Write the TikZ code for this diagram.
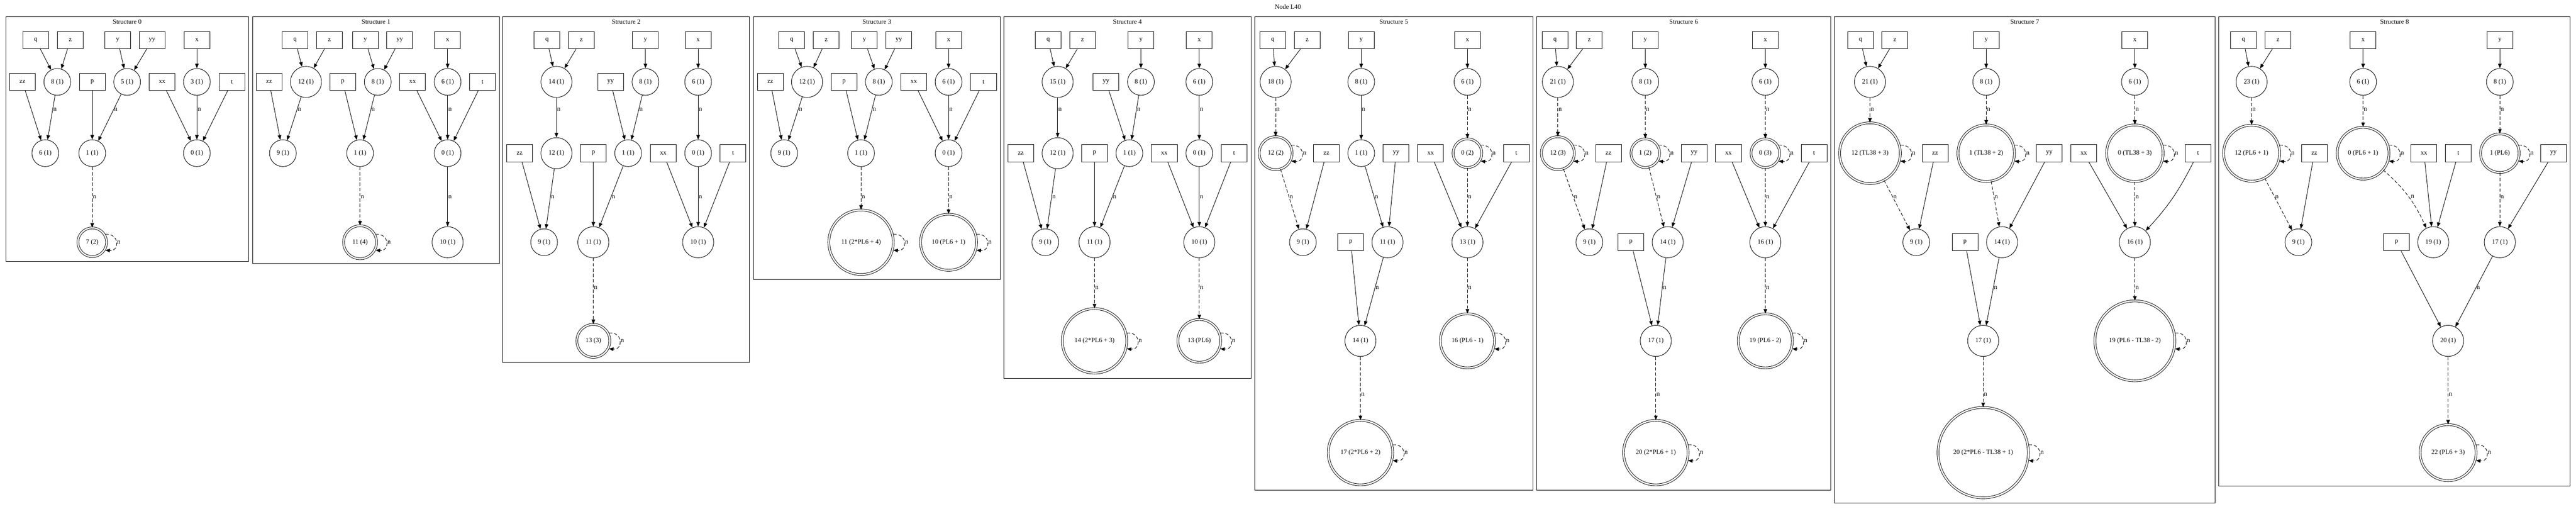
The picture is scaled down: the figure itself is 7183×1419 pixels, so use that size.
\documentclass[tikz,border=0pt]{standalone}
\usepackage{fontspec}
\setmainfont{Liberation Serif}
\usetikzlibrary{arrows.meta,calc}
\newcommand\myelab[3]{\path let \p1=(#1.center), \p2=(#2.center), \p3=(0,#3) in node[lbl] at ({\x1+((\x2)-(\x1))*(((\y3)-(\y1))/((\y2)-(\y1)))},\y3) {n};}
\newcommand\myE[2]{\draw[ar] (#1) -- (#2);}
\newcommand\myL[3]{\draw[ar] (#1) -- (#2);\myelab{#1}{#2}{#3}}
\newcommand\myD[3]{\draw[da] (#1) -- (#2);\myelab{#1}{#2}{#3}}
\newcommand\myloop[2]{\pgfmathsetmacro\lx{#2*sqrt(1-(22/#2)*(22/#2))}\draw[da] ($(#1.center)+(\lx,-22)$) .. controls +(40,-4) and +(40,4) .. ($(#1.center)+(\lx,22)$);\node[lbl] at ($(#1.center)+(\lx+31,0)$) {n};}
\begin{document}
\begin{tikzpicture}[x=0.75pt,y=-0.75pt,line width=1pt,
  every node/.style={font=\fontsize{13.6}{16}\selectfont},
  bx/.style={draw,rectangle,minimum width=54pt,minimum height=36pt,inner sep=0pt},
  c1/.style={draw,circle,minimum size=56pt,inner sep=0pt},
  c2/.style={draw,circle,minimum size=64.9pt,inner sep=0pt},
  dc/.style={draw,circle,double,double distance=3pt,inner sep=0pt,minimum size=#1},
  lbl/.style={anchor=west,inner sep=0pt,xshift=1pt},
  ar/.style={-{Triangle[length=9.5pt,width=7.5pt]}},
  da/.style={ar,dash pattern=on 7pt off 4pt}]
\fill[white] (0,0) rectangle (7183,1419);
\node at (3591,19) {Node L40};
% ---------------- Structure 0
\draw (16,47) rectangle (693,728.6);
\node at (354.5,61) {Structure 0};
\node[bx] (s0q) at (99.6,111.7) {q};
\node[bx] (s0z) at (195.9,111.7) {z};
\node[bx] (s0y) at (328.1,111.7) {y};
\node[bx] (s0yy) at (424.1,111.7) {yy};
\node[bx] (s0x) at (549,111.7) {x};
\node[bx] (s0zz) at (62.5,228.4) {zz};
\node[c1] (s0n8) at (159.8,228.4) {8 (1)};
\node[bx] (s0p) at (257.2,228.4) {p};
\node[c1] (s0n5) at (354.5,228.4) {5 (1)};
\node[bx] (s0xx) at (452.1,228.4) {xx};
\node[c1] (s0n3) at (549,228.4) {3 (1)};
\node[bx] (s0t) at (646.8,228.4) {t};
\node[c1] (s0n6) at (126.3,427.2) {6 (1)};
\node[c1] (s0n1) at (257.2,427.2) {1 (1)};
\node[c1] (s0n0) at (549,427.2) {0 (1)};
\node[dc=60pt] (s0n7) at (257.2,675.5) {7 (2)};
\myE{s0q}{s0n8}\myE{s0z}{s0n8}\myE{s0y}{s0n5}\myE{s0yy}{s0n5}\myE{s0x}{s0n3}
\myE{s0zz}{s0n6}\myL{s0n8}{s0n6}{306}\myE{s0p}{s0n1}\myL{s0n5}{s0n1}{306}
\myE{s0xx}{s0n0}\myL{s0n3}{s0n0}{306}\myE{s0t}{s0n0}
\myD{s0n1}{s0n7}{549}\myloop{s0n7}{42.7}
% ---------------- Structure 1
\draw (704,47) rectangle (1393,735);
\node at (1048.5,61) {Structure 1};
\node[bx] (s1q) at (822.7,111.7) {q};
\node[bx] (s1z) at (918.6,111.7) {z};
\node[bx] (s1y) at (1018.7,111.7) {y};
\node[bx] (s1yy) at (1114.6,111.7) {yy};
\node[bx] (s1x) at (1248.2,111.7) {x};
\node[bx] (s1zz) at (750.3,228.4) {zz};
\node[c2] (s1n12) at (853.2,228.4) {12 (1)};
\node[bx] (s1p) at (955.8,228.4) {p};
\node[c1] (s1n8) at (1053.4,228.4) {8 (1)};
\node[bx] (s1xx) at (1150.4,228.4) {xx};
\node[c1] (s1n6) at (1248.2,228.4) {6 (1)};
\node[bx] (s1t) at (1345.5,228.4) {t};
\node[c1] (s1n9) at (788.9,427.2) {9 (1)};
\node[c1] (s1n1) at (1004,427.2) {1 (1)};
\node[c1] (s1n0) at (1248.2,427.2) {0 (1)};
\node[dc=68.9pt] (s1n11) at (1004,675.5) {11 (4)};
\node[c2] (s1n10) at (1248.2,675.5) {10 (1)};
\myE{s1q}{s1n12}\myE{s1z}{s1n12}\myE{s1y}{s1n8}\myE{s1yy}{s1n8}\myE{s1x}{s1n6}
\myE{s1zz}{s1n9}\myL{s1n12}{s1n9}{306}\myE{s1p}{s1n1}\myL{s1n8}{s1n1}{306}
\myE{s1xx}{s1n0}\myL{s1n6}{s1n0}{306}\myE{s1t}{s1n0}
\myD{s1n1}{s1n11}{549}\myloop{s1n11}{48.6}\myL{s1n0}{s1n10}{549}
% ---------------- Structure 2
\draw (1402,47) rectangle (2090,1010.5);
\node at (1746,61) {Structure 2};
\node[bx] (s2q) at (1525.3,111.7) {q};
\node[bx] (s2z) at (1621.2,111.7) {z};
\node[bx] (s2y) at (1799.8,111.7) {y};
\node[bx] (s2x) at (1946.7,111.7) {x};
\node[c2] (s2n14) at (1551.6,228.4) {14 (1)};
\node[bx] (s2yy) at (1702.5,228.4) {yy};
\node[c1] (s2n8) at (1799.8,228.4) {8 (1)};
\node[c1] (s2n6) at (1946.7,228.4) {6 (1)};
\node[bx] (s2zz) at (1448.9,427.2) {zz};
\node[c2] (s2n12) at (1551.6,427.2) {12 (1)};
\node[bx] (s2p) at (1654.5,427.2) {p};
\node[c1] (s2n1) at (1751.6,427.2) {1 (1)};
\node[bx] (s2xx) at (1849.4,427.2) {xx};
\node[c1] (s2n0) at (1946.7,427.2) {0 (1)};
\node[bx] (s2t) at (2044,427.2) {t};
\node[c1] (s2n9) at (1517.2,675.5) {9 (1)};
\node[c2] (s2n11) at (1654.5,675.5) {11 (1)};
\node[c2] (s2n10) at (1946.7,675.5) {10 (1)};
\node[dc=68.9pt] (s2n13) at (1654.5,950.5) {13 (3)};
\myE{s2q}{s2n14}\myE{s2z}{s2n14}\myE{s2y}{s2n8}\myE{s2x}{s2n6}
\myL{s2n14}{s2n12}{306}\myE{s2yy}{s2n1}\myL{s2n8}{s2n1}{306}\myL{s2n6}{s2n0}{306}
\myE{s2zz}{s2n9}\myL{s2n12}{s2n9}{549}\myE{s2p}{s2n11}\myL{s2n1}{s2n11}{549}
\myE{s2xx}{s2n10}\myL{s2n0}{s2n10}{549}\myE{s2t}{s2n10}
\myD{s2n11}{s2n13}{803}\myloop{s2n13}{48.6}
% ---------------- Structure 3
\draw (2100.7,47) rectangle (2789.6,779.6);
\node at (2445.2,61) {Structure 3};
\node[bx] (s3q) at (2207.7,111.7) {q};
\node[bx] (s3z) at (2303.7,111.7) {z};
\node[bx] (s3y) at (2410.4,111.7) {y};
\node[bx] (s3yy) at (2506.4,111.7) {yy};
\node[bx] (s3x) at (2645,111.7) {x};
\node[bx] (s3zz) at (2148,228.4) {zz};
\node[c2] (s3n12) at (2250.4,228.4) {12 (1)};
\node[bx] (s3p) at (2353.5,228.4) {p};
\node[c1] (s3n8) at (2450.6,228.4) {8 (1)};
\node[bx] (s3xx) at (2548,228.4) {xx};
\node[c1] (s3n6) at (2645,228.4) {6 (1)};
\node[bx] (s3t) at (2742.4,228.4) {t};
\node[c1] (s3n9) at (2186.6,427.2) {9 (1)};
\node[c1] (s3n1) at (2401,427.2) {1 (1)};
\node[c1] (s3n0) at (2645,427.2) {0 (1)};
\node[dc=134.8pt] (s3n11) at (2401,675.5) {11 (2*PL6 + 4)};
\node[dc=117.2pt] (s3n10) at (2645,675.5) {10 (PL6 + 1)};
\myE{s3q}{s3n12}\myE{s3z}{s3n12}\myE{s3y}{s3n8}\myE{s3yy}{s3n8}\myE{s3x}{s3n6}
\myE{s3zz}{s3n9}\myL{s3n12}{s3n9}{306}\myE{s3p}{s3n1}\myL{s3n8}{s3n1}{306}
\myE{s3xx}{s3n0}\myL{s3n6}{s3n0}{306}\myE{s3t}{s3n0}
\myD{s3n1}{s3n11}{549}\myloop{s3n11}{92.6}\myD{s3n0}{s3n10}{549}\myloop{s3n10}{80.8}
% ---------------- Structure 4
\draw (2799.3,47) rectangle (3488,1055.4);
\node at (3143.7,61) {Structure 4};
\node[bx] (s4q) at (2922.6,111.7) {q};
\node[bx] (s4z) at (3018.6,111.7) {z};
\node[bx] (s4y) at (3181.4,111.7) {y};
\node[bx] (s4x) at (3344.1,111.7) {x};
\node[c2] (s4n15) at (2949.2,228.4) {15 (1)};
\node[bx] (s4yy) at (3084,228.4) {yy};
\node[c1] (s4n8) at (3181.4,228.4) {8 (1)};
\node[c1] (s4n6) at (3344.1,228.4) {6 (1)};
\node[bx] (s4zz) at (2846.5,427.2) {zz};
\node[c2] (s4n12) at (2949.2,427.2) {12 (1)};
\node[bx] (s4p) at (3052,427.2) {p};
\node[c1] (s4n1) at (3149.2,427.2) {1 (1)};
\node[bx] (s4xx) at (3246.6,427.2) {xx};
\node[c1] (s4n0) at (3344.1,427.2) {0 (1)};
\node[bx] (s4t) at (3441.3,427.2) {t};
\node[c1] (s4n9) at (2914.6,675.5) {9 (1)};
\node[c2] (s4n11) at (3052,675.5) {11 (1)};
\node[c2] (s4n10) at (3344.1,675.5) {10 (1)};
\node[dc=134.8pt] (s4n14) at (3052,950.5) {14 (2*PL6 + 3)};
\node[dc=89.5pt] (s4n13) at (3344.1,950.5) {13 (PL6)};
\myE{s4q}{s4n15}\myE{s4z}{s4n15}\myE{s4y}{s4n8}\myE{s4x}{s4n6}
\myL{s4n15}{s4n12}{306}\myE{s4yy}{s4n1}\myL{s4n8}{s4n1}{306}\myL{s4n6}{s4n0}{306}
\myE{s4zz}{s4n9}\myL{s4n12}{s4n9}{549}\myE{s4p}{s4n11}\myL{s4n1}{s4n11}{549}
\myE{s4xx}{s4n10}\myL{s4n0}{s4n10}{549}\myE{s4t}{s4n10}
\myD{s4n11}{s4n14}{803}\myloop{s4n14}{92.6}\myD{s4n10}{s4n13}{803}\myloop{s4n13}{62.4}
% ---------------- Structure 5
\draw (3498.6,47) rectangle (4274.4,1366.5);
\node at (3886.5,61) {Structure 5};
\node[bx] (s5q) at (3549,111.7) {q};
\node[bx] (s5z) at (3645,111.7) {z};
\node[bx] (s5y) at (3795.6,111.7) {y};
\node[bx] (s5x) at (4091.8,111.7) {x};
\node[c2] (s5n18) at (3557,228.4) {18 (1)};
\node[c1] (s5n8) at (3795.6,228.4) {8 (1)};
\node[c1] (s5n6) at (4091.8,228.4) {6 (1)};
\node[dc=68.9pt] (s5n12) at (3557,427.2) {12 (2)};
\node[bx] (s5zz) at (3698.6,427.2) {zz};
\node[c1] (s5n1) at (3795.6,427.2) {1 (1)};
\node[bx] (s5yy) at (3892.9,427.2) {yy};
\node[bx] (s5xx) at (3989.2,427.2) {xx};
\node[dc=60pt] (s5n0) at (4091.8,427.2) {0 (2)};
\node[bx] (s5t) at (4228.2,427.2) {t};
\node[c1] (s5n9) at (3633,675.5) {9 (1)};
\node[bx] (s5p) at (3766.4,675.5) {p};
\node[c2] (s5n11) at (3868.9,675.5) {11 (1)};
\node[c2] (s5n13) at (4091.8,675.5) {13 (1)};
\node[c2] (s5n14) at (3793.5,950.5) {14 (1)};
\node[dc=113.1pt] (s5n16) at (4091.8,950.5) {16 (PL6 - 1)};
\node[dc=134.8pt] (s5n17) at (3793.5,1262.2) {17 (2*PL6 + 2)};
\myE{s5q}{s5n18}\myE{s5z}{s5n18}\myE{s5y}{s5n8}\myE{s5x}{s5n6}
\myD{s5n18}{s5n12}{306}\myloop{s5n12}{48.6}\myL{s5n8}{s5n1}{306}
\myD{s5n6}{s5n0}{306}\myloop{s5n0}{42.7}
\myD{s5n12}{s5n9}{549}\myE{s5zz}{s5n9}\myL{s5n1}{s5n11}{549}\myE{s5yy}{s5n11}
\myE{s5xx}{s5n13}\myD{s5n0}{s5n13}{549}\myE{s5t}{s5n13}
\myE{s5p}{s5n14}\myL{s5n11}{s5n14}{803}\myD{s5n13}{s5n16}{803}\myloop{s5n16}{78.1}
\myD{s5n14}{s5n17}{1100}\myloop{s5n17}{92.6}
% ---------------- Structure 6
\draw (4284.8,47) rectangle (5105,1366.5);
\node at (4694.9,61) {Structure 6};
\node[bx] (s6q) at (4335.9,111.7) {q};
\node[bx] (s6z) at (4431.7,111.7) {z};
\node[bx] (s6y) at (4587.8,111.7) {y};
\node[bx] (s6x) at (4922.5,111.7) {x};
\node[c2] (s6n21) at (4343.9,228.4) {21 (1)};
\node[c1] (s6n8) at (4587.8,228.4) {8 (1)};
\node[c1] (s6n6) at (4922.5,228.4) {6 (1)};
\node[dc=68.9pt] (s6n12) at (4343.9,427.2) {12 (3)};
\node[bx] (s6zz) at (4485.1,427.2) {zz};
\node[dc=60pt] (s6n1) at (4587.8,427.2) {1 (2)};
\node[bx] (s6yy) at (4723.9,427.2) {yy};
\node[bx] (s6xx) at (4819.7,427.2) {xx};
\node[dc=60pt] (s6n0) at (4922.5,427.2) {0 (3)};
\node[bx] (s6t) at (5058.5,427.2) {t};
\node[c1] (s6n9) at (4431.7,675.5) {9 (1)};
\node[bx] (s6p) at (4547.7,675.5) {p};
\node[c2] (s6n14) at (4650.4,675.5) {14 (1)};
\node[c2] (s6n16) at (4922.5,675.5) {16 (1)};
\node[c2] (s6n17) at (4617.1,950.5) {17 (1)};
\node[dc=113.1pt] (s6n19) at (4922.5,950.5) {19 (PL6 - 2)};
\node[dc=134.8pt] (s6n20) at (4617.1,1262.2) {20 (2*PL6 + 1)};
\myE{s6q}{s6n21}\myE{s6z}{s6n21}\myE{s6y}{s6n8}\myE{s6x}{s6n6}
\myD{s6n21}{s6n12}{306}\myloop{s6n12}{48.6}\myD{s6n8}{s6n1}{306}\myloop{s6n1}{42.7}
\myD{s6n6}{s6n0}{306}\myloop{s6n0}{42.7}
\myD{s6n12}{s6n9}{549}\myE{s6zz}{s6n9}\myD{s6n1}{s6n14}{549}\myE{s6yy}{s6n14}
\myE{s6xx}{s6n16}\myD{s6n0}{s6n16}{549}\myE{s6t}{s6n16}
\myE{s6p}{s6n17}\myL{s6n14}{s6n17}{803}\myD{s6n16}{s6n19}{803}\myloop{s6n19}{78.1}
\myD{s6n17}{s6n20}{1100}\myloop{s6n20}{92.6}
% ---------------- Structure 7
\draw (5115.4,47) rectangle (6176,1402.8);
\node at (5645.7,61) {Structure 7};
\node[bx] (s7q) at (5187.9,111.7) {q};
\node[bx] (s7z) at (5283.6,111.7) {z};
\node[bx] (s7y) at (5538.3,111.7) {y};
\node[bx] (s7x) at (5952.9,111.7) {x};
\node[c2] (s7n21) at (5214.2,228.4) {21 (1)};
\node[c1] (s7n8) at (5538.3,228.4) {8 (1)};
\node[c1] (s7n6) at (5952.9,228.4) {6 (1)};
\node[dc=127pt] (s7n12) at (5214.2,427.2) {12 (TL38 + 3)};
\node[bx] (s7zz) at (5395.9,427.2) {zz};
\node[dc=118.2pt] (s7n1) at (5538.3,427.2) {1 (TL38 + 2)};
\node[bx] (s7yy) at (5714.3,427.2) {yy};
\node[bx] (s7xx) at (5810.5,427.2) {xx};
\node[dc=118.2pt] (s7n0) at (5952.9,427.2) {0 (TL38 + 3)};
\node[bx] (s7t) at (6128.9,427.2) {t};
\node[c1] (s7n9) at (5343.3,675.5) {9 (1)};
\node[bx] (s7p) at (5479.3,675.5) {p};
\node[c2] (s7n14) at (5582.5,675.5) {14 (1)};
\node[c2] (s7n16) at (5952.9,675.5) {16 (1)};
\node[c2] (s7n17) at (5529.9,950.5) {17 (1)};
\node[dc=167.1pt] (s7n19) at (5952.9,950.5) {19 (PL6 - TL38 - 2)};
\node[dc=188.9pt] (s7n20) at (5529.9,1262.2) {20 (2*PL6 - TL38 + 1)};
\myE{s7q}{s7n21}\myE{s7z}{s7n21}\myE{s7y}{s7n8}\myE{s7x}{s7n6}
\myD{s7n21}{s7n12}{306}\myloop{s7n12}{87.4}\myD{s7n8}{s7n1}{306}\myloop{s7n1}{81.5}
\myD{s7n6}{s7n0}{306}\myloop{s7n0}{81.5}
\myD{s7n12}{s7n9}{549}\myE{s7zz}{s7n9}\myD{s7n1}{s7n14}{549}\myE{s7yy}{s7n14}
\myE{s7xx}{s7n16}\myD{s7n0}{s7n16}{549}\draw[ar] (s7t) to[bend left=8] (s7n16);
\myE{s7p}{s7n17}\myL{s7n14}{s7n17}{803}\myD{s7n16}{s7n19}{803}\myloop{s7n19}{114.1}
\myD{s7n17}{s7n20}{1100}\myloop{s7n20}{128.6}
% ---------------- Structure 8
\draw (6187.2,47) rectangle (7166.7,1354.8);
\node at (6677,61) {Structure 8};
\node[bx] (s8q) at (6255.8,111.7) {q};
\node[bx] (s8z) at (6351.7,111.7) {z};
\node[bx] (s8x) at (6589.3,111.7) {x};
\node[bx] (s8y) at (6970.6,111.7) {y};
\node[c2] (s8n23) at (6278.4,228.4) {23 (1)};
\node[c1] (s8n6) at (6589.3,228.4) {6 (1)};
\node[c1] (s8n8) at (6970.6,228.4) {8 (1)};
\node[dc=117.2pt] (s8n12) at (6278.4,427.2) {12 (PL6 + 1)};
\node[bx] (s8zz) at (6453.3,427.2) {zz};
\node[dc=108.4pt] (s8n0) at (6589.3,427.2) {0 (PL6 + 1)};
\node[bx] (s8xx) at (6758.9,427.2) {xx};
\node[bx] (s8t) at (6854.8,427.2) {t};
\node[dc=80.7pt] (s8n1) at (6970.6,427.2) {1 (PL6)};
\node[bx] (s8yy) at (7120,427.2) {yy};
\node[c1] (s8n9) at (6408.8,675.5) {9 (1)};
\node[bx] (s8p) at (6682.4,675.5) {p};
\node[c2] (s8n19) at (6784.9,675.5) {19 (1)};
\node[c2] (s8n17) at (6970.6,675.5) {17 (1)};
\node[c2] (s8n20) at (6826.3,950.5) {20 (1)};
\node[dc=117.2pt] (s8n22) at (6826.3,1262.2) {22 (PL6 + 3)};
\myE{s8q}{s8n23}\myE{s8z}{s8n23}\myE{s8x}{s8n6}\myE{s8y}{s8n8}
\myD{s8n23}{s8n12}{306}\myloop{s8n12}{80.8}\myD{s8n6}{s8n0}{306}\myloop{s8n0}{74.9}
\myD{s8n8}{s8n1}{306}\myloop{s8n1}{56.5}
\myD{s8n12}{s8n9}{549}\myE{s8zz}{s8n9}
\draw[da] (s8n0) to[bend left=12] node[pos=0.5,lbl,xshift=4pt] {n} (s8n19);
\myE{s8xx}{s8n19}\myE{s8t}{s8n19}
\myD{s8n1}{s8n17}{549}\myE{s8yy}{s8n17}
\myE{s8p}{s8n20}\myL{s8n17}{s8n20}{803}
\myD{s8n20}{s8n22}{1100}\myloop{s8n22}{80.8}
\end{tikzpicture}
\end{document}
